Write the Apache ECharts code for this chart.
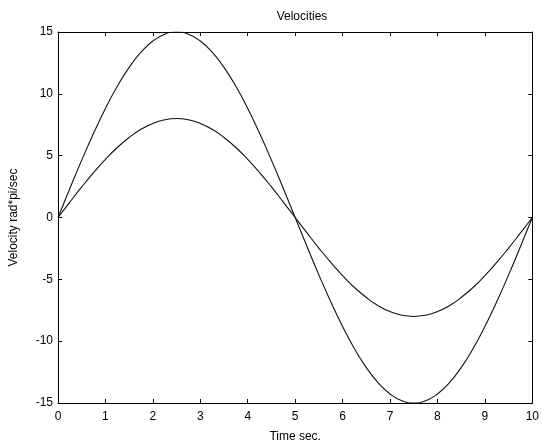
<!DOCTYPE html>
<html>
<head>
<meta charset="utf-8">
<script src="https://cdn.jsdelivr.net/npm/echarts@6/dist/echarts.min.js"></script>
<style>
  html, body { margin: 0; padding: 0; background: #fff; }
  #chart { width: 542px; height: 448px; }
</style>
</head>
<body>
<div id="chart"></div>
<script>
// Time samples (seconds)
const time = [0, 0.25, 0.5, 0.75, 1, 1.25, 1.5, 1.75, 2, 2.25, 2.5, 2.75, 3, 3.25, 3.5, 3.75, 4, 4.25, 4.5, 4.75,
  5, 5.25, 5.5, 5.75, 6, 6.25, 6.5, 6.75, 7, 7.25, 7.5, 7.75, 8, 8.25, 8.5, 8.75, 9, 9.25, 9.5, 9.75, 10];

// Larger velocity curve (peak 15)
const velocityA = [0, 2.35, 4.64, 6.81, 8.82, 10.61, 12.14, 13.37, 14.27, 14.82, 15, 14.82, 14.27, 13.37, 12.14, 10.61, 8.82, 6.81, 4.64, 2.35,
  0, -2.35, -4.64, -6.81, -8.82, -10.61, -12.14, -13.37, -14.27, -14.82, -15, -14.82, -14.27, -13.37, -12.14, -10.61, -8.82, -6.81, -4.64, -2.35, 0];

// Smaller velocity curve (peak 8)
const velocityB = [0, 1.25, 2.47, 3.63, 4.70, 5.66, 6.47, 7.13, 7.61, 7.90, 8, 7.90, 7.61, 7.13, 6.47, 5.66, 4.70, 3.63, 2.47, 1.25,
  0, -1.25, -2.47, -3.63, -4.70, -5.66, -6.47, -7.13, -7.61, -7.90, -8, -7.90, -7.61, -7.13, -6.47, -5.66, -4.70, -3.63, -2.47, -1.25, 0];

const xTicks = [0, 1, 2, 3, 4, 5, 6, 7, 8, 9, 10];
const yTicks = [-15, -10, -5, 0, 5, 10, 15];

const font = 'Liberation Sans, Arial, sans-serif';

const pairs = (xs, ys) => xs.map((x, i) => [x, ys[i]]);

// Box frame: every axis sits on the plot edge, ticks point inward
const boxAxisLine = { show: true, onZero: false, lineStyle: { color: '#000', width: 1 } };
const inTick = { show: true, inside: true, length: 4, lineStyle: { color: '#000', width: 1 } };

const chart = echarts.init(document.getElementById('chart'), null, { renderer: 'canvas' });
chart.setOption({
  animation: false,
  backgroundColor: '#fff',
  title: {
    text: 'Velocities',
    left: 297,
    textAlign: 'center',
    top: 6,
    textStyle: { fontFamily: font, fontSize: 12, fontWeight: 'normal', color: '#000' }
  },
  grid: { left: 57, right: 5, top: 32, bottom: 40 },
  xAxis: [
    {
      type: 'value', min: xTicks[0], max: xTicks[xTicks.length - 1], interval: 1,
      position: 'bottom',
      name: 'Time sec.', nameLocation: 'middle', nameGap: 28,
      nameTextStyle: { fontFamily: font, fontSize: 12, color: '#000' },
      axisLine: boxAxisLine, axisTick: inTick,
      axisLabel: { fontFamily: font, fontSize: 12, color: '#000', margin: 8 },
      splitLine: { show: false }
    },
    {
      type: 'value', min: xTicks[0], max: xTicks[xTicks.length - 1], interval: 1,
      position: 'top',
      axisLine: boxAxisLine, axisTick: inTick,
      axisLabel: { show: false }, splitLine: { show: false }
    }
  ],
  yAxis: [
    {
      type: 'value', min: yTicks[0], max: yTicks[yTicks.length - 1], interval: 5,
      position: 'left',
      name: 'Velocity rad*pi/sec', nameLocation: 'middle', nameGap: 38,
      nameTextStyle: { fontFamily: font, fontSize: 12, color: '#000' },
      axisLine: boxAxisLine, axisTick: inTick,
      axisLabel: { fontFamily: font, fontSize: 12, color: '#000', margin: 5 },
      splitLine: { show: false }
    },
    {
      type: 'value', min: yTicks[0], max: yTicks[yTicks.length - 1], interval: 5,
      position: 'right',
      axisLine: boxAxisLine, axisTick: inTick,
      axisLabel: { show: false }, splitLine: { show: false }
    }
  ],
  series: [
    {
      type: 'line', data: pairs(time, velocityA), smooth: true, showSymbol: false,
      lineStyle: { color: '#111', width: 1.1 }
    },
    {
      type: 'line', data: pairs(time, velocityB), smooth: true, showSymbol: false,
      lineStyle: { color: '#111', width: 1.1 }
    }
  ]
});
</script>
</body>
</html>
